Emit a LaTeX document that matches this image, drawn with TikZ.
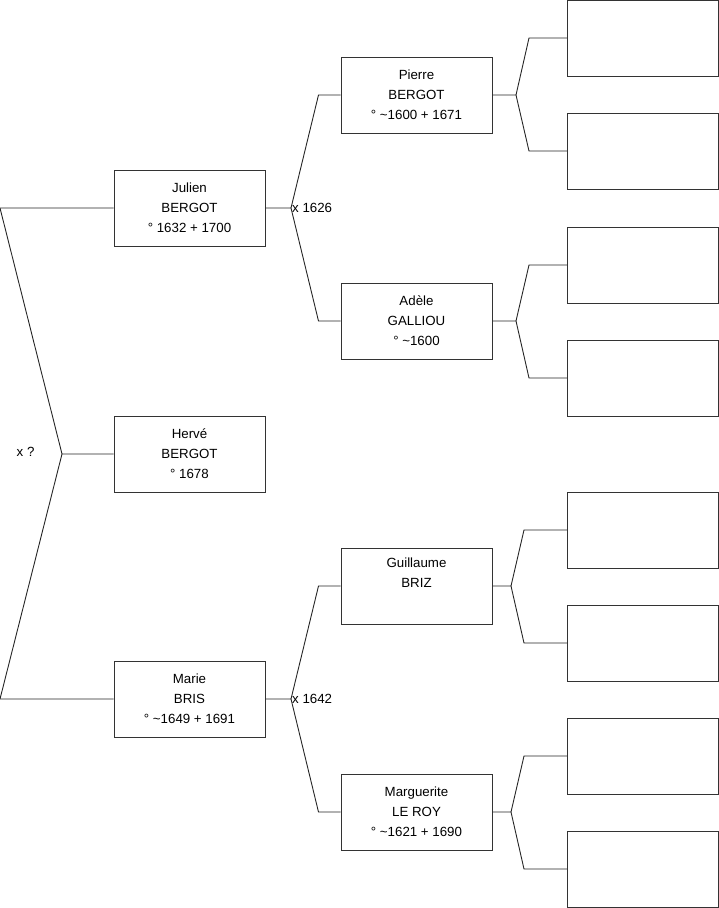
\documentclass[tikz,border=0pt]{standalone}
\usepackage{fontspec}
\setmainfont{Liberation Sans}
\usetikzlibrary{positioning}

\begin{document}
\begin{tikzpicture}[x=1pt, y=-1pt,
  every node/.style={font=\fontsize{13.3}{20}\selectfont},
  person/.style={rectangle, draw=black!80, line width=1pt, align=center, minimum width=151pt, minimum height=76pt, inner sep=0pt},
  link/.style={draw=black!85, line width=0.9pt}]
\useasboundingbox (0,0) rectangle (719,908);
% generation 1
\node[person] (julien) at (189.5,208) {Julien\\BERGOT\\° 1632 + 1700};
\node[person] (herve)  at (189.5,454) {Hervé\\BERGOT\\° 1678};
\node[person] (marie)  at (189.5,699) {Marie\\BRIS\\° \textasciitilde1649 + 1691};
% generation 2
\node[person] (pierre)     at (416.5,95)  {Pierre\\BERGOT\\° \textasciitilde1600 + 1671};
\node[person] (adele)      at (416.5,321) {Adèle\\GALLIOU\\° \textasciitilde1600};
\node[person] (guillaume)  at (416.5,586) {Guillaume\\BRIZ\\\strut};
\node[person] (marguerite) at (416.5,812) {Marguerite\\LE ROY\\° \textasciitilde1621 + 1690};
% generation 3 (empty)
\foreach \y [count=\i] in {38,151,265,378,530,643,756,869}
  \node[person] (anc\i) at (643,\y) {};
% marriage of the parents
\coordinate (left1) at (0,208);
\coordinate (xq) at (62,454);
\coordinate (left2) at (0,699);
\draw[link] (julien.west) -- (left1) -- (xq) -- (herve.west);
\draw[link] (xq) -- (left2) -- (marie.west);
\node[anchor=east] (xqlabel) at (38,452) {x ?};
% forks towards generation 2
\coordinate (m1) at (291,208);
\draw[link] (julien.east) -- (m1) -- ([xshift=-22pt]pierre.west) -- (pierre.west);
\draw[link] (m1) -- ([xshift=-22pt]adele.west) -- (adele.west);
\node[anchor=west, inner sep=1pt] (m1label) at (m1) {x 1626};
\coordinate (m2) at (291,699);
\draw[link] (marie.east) -- (m2) -- ([xshift=-22pt]guillaume.west) -- (guillaume.west);
\draw[link] (m2) -- ([xshift=-22pt]marguerite.west) -- (marguerite.west);
\node[anchor=west, inner sep=1pt] (m2label) at (m2) {x 1642};
% forks towards generation 3
\coordinate (f1) at (516,95);
\draw[link] (pierre.east) -- (f1) -- ([xshift=-38pt]anc1.west) -- (anc1.west);
\draw[link] (f1) -- ([xshift=-38pt]anc2.west) -- (anc2.west);
\coordinate (f2) at (516,321);
\draw[link] (adele.east) -- (f2) -- ([xshift=-38pt]anc3.west) -- (anc3.west);
\draw[link] (f2) -- ([xshift=-38pt]anc4.west) -- (anc4.west);
\coordinate (f3) at (511,586);
\draw[link] (guillaume.east) -- (f3) -- ([xshift=-43pt]anc5.west) -- (anc5.west);
\draw[link] (f3) -- ([xshift=-43pt]anc6.west) -- (anc6.west);
\coordinate (f4) at (511,812);
\draw[link] (marguerite.east) -- (f4) -- ([xshift=-43pt]anc7.west) -- (anc7.west);
\draw[link] (f4) -- ([xshift=-43pt]anc8.west) -- (anc8.west);
\end{tikzpicture}
\end{document}
